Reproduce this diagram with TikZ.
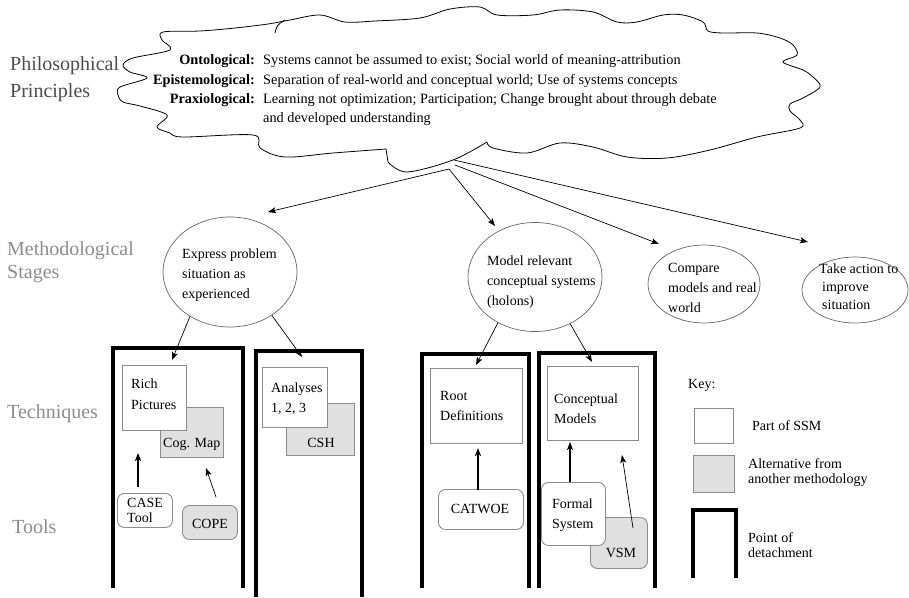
\documentclass[tikz,border=0pt]{standalone}
\usepackage{fontspec}
\setmainfont{Liberation Serif}
\usetikzlibrary{arrows.meta,shapes.geometric}
\definecolor{boxedge}{gray}{0.55}
\definecolor{altfill}{gray}{0.88}
\definecolor{philo}{gray}{0.3}
\definecolor{levels}{gray}{0.55}
\definecolor{stageedge}{gray}{0.4}

\begin{document}
\begin{tikzpicture}[x=1pt,y=-1pt,
  % multi-line text nodes are placed by the baseline of their last line
  txt/.style={anchor=base west, inner sep=0, align=left, font=\fontsize{14}{20}\selectfont},
  ctxt/.style={txt, anchor=base},
  cloudtxt/.style={anchor=base west, inner sep=0, font=\fontsize{14.3}{19}\selectfont},
  cloudkey/.style={anchor=base east, inner sep=0, font=\fontsize{14.3}{19}\selectfont\bfseries},
  level/.style={anchor=base west, inner sep=0, align=left, font=\fontsize{20}{23}\selectfont, text=levels},
  stage/.style={draw=stageedge, ellipse, line width=0.7pt, inner sep=0},
  part/.style={draw=boxedge, fill=white, line width=0.9pt, anchor=north west, inner sep=0},
  alt/.style={part, fill=altfill},
  toolbox/.style={part, rounded corners=7pt},
  alttool/.style={alt, rounded corners=7pt},
  detach/.style={line width=3.2pt, line cap=butt, line join=miter},
  arr/.style={-{Stealth[length=8pt,width=6pt,inset=2pt]}, line width=0.7pt},
  thickarr/.style={arr, line width=1.6pt},
]
\useasboundingbox (0,0) rectangle (909,597);

% ---- level labels ----
\node[level, text=philo] (lvlphilo) at (10,70) {Philosophical};
\node[level, text=philo] (lvlprin) at (10,97) {Principles};
\node[level] (lvlmeth) at (7,255) {Methodological};
\node[level] (lvlstag) at (7,278) {Stages};
\node[level] (lvltech) at (7,418) {Techniques};
\node[level] (lvltool) at (12,533) {Tools};

% ---- cloud of principles ----
\draw[line width=0.8pt, line join=round]
  plot[smooth, tension=0.55] coordinates {
    (487,142) (493,148) (527,153) (560,143) (593,147) (627,157) (667,158)
    (710,150) (757,137) (800,128) (800,120) (790,111) (790,104) (803,98)
    (820,87) (813,77) (803,70) (783,62) (797,55) (793,45) (780,38) (757,33)
    (723,33) (708,31) (703,22) (683,15) (663,15) (637,22) (617,22) (593,12)
    (560,10) (533,15) (497,15) (480,7) (450,9) (420,18) (375,21) (345,22)
    (320,15) (290,20) (268,24) (235,28) (200,31) (163,32) (162,40) (170,50)
    (133,58) (123,65) (130,72) (147,78) (120,87) (118,95) (123,102) (140,106)
    (167,115) (157,127) (170,133) (183,137) (253,135) (260,148) (285,157)
    (333,153) (386,149)}
  -- plot[smooth, tension=0.55] coordinates {(388,162) (407,172) (453,160) (487,142)};
\draw[line width=0.8pt] (275,33) .. controls (277,25) .. (285,20);

\node[cloudkey] (ontk) at (255,64) {Ontological:};
\node[cloudtxt] (ontv) at (263,64) {Systems cannot be assumed to exist; Social world of meaning-attribution};
\node[cloudkey] (epik) at (255,84) {Epistemological:};
\node[cloudtxt] (epiv) at (263,84) {Separation of real-world and conceptual world; Use of systems concepts};
\node[cloudkey] (prak) at (255,103) {Praxiological:};
\node[cloudtxt] (prav) at (263,103) {Learning not optimization; Participation; Change brought about through debate};
\node[cloudtxt] (prav2) at (263,122) {and developed understanding};

% ---- methodological stages ----
\node[stage, minimum width=134, minimum height=110] (express) at (230,272) {};
\node[stage, minimum width=134, minimum height=109] (model) at (535,277) {};
\node[stage, minimum width=112, minimum height=78] (compare) at (704,284) {};
\node[stage, minimum width=106, minimum height=66] (takeact) at (855,290) {};
\node[txt] (expresst) at (182,298) {Express problem\\situation as\\experienced};
\node[txt] (modelt) at (487,305) {Model relevant\\conceptual systems\\(holons)};
\node[txt] (comparet) at (668,312) {Compare\\models and real\\world};
\node[txt, font=\fontsize{14}{18}\selectfont] (takeactt) at (819,309) {Take action to\\\hspace*{3pt}improve\\\hspace*{3pt}situation};

\coordinate (src1) at (449,169);
\coordinate (src2) at (455,165);
\coordinate (src3) at (454,160);
\coordinate (expressin) at (268,212);
\coordinate (modelin) at (495,226);
\coordinate (comparein) at (659,244);
\coordinate (takeactin) at (808,242);
\draw[arr] (src1) -- (expressin);
\draw[arr] (src1) -- (modelin);
\draw[arr] (src2) -- (comparein);
\draw[arr] (src3) -- (takeactin);

% ---- points of detachment ----
\draw[detach] (113,588) |- (243,348) -- (243,588);
\draw[detach] (256,597) |- (362,351) -- (362,597);
\draw[detach] (422,588) |- (529,354) -- (529,588);
\draw[detach] (539,588) |- (655,353) -- (655,588);

% ---- techniques ----
\node[alt, minimum width=63, minimum height=50] (cog) at (160,407) {};
\node[part, minimum width=64, minimum height=65] (rich) at (122,365) {};
\node[alt, minimum width=68, minimum height=52] (csh) at (286,403) {};
\node[part, minimum width=65, minimum height=60] (analyses) at (262,367) {};
\node[part, minimum width=92, minimum height=75] (root) at (430,368) {};
\node[part, minimum width=91, minimum height=74] (concept) at (547,366) {};

\node[txt, font=\fontsize{14}{21}\selectfont] (richt) at (131,409) {Rich\\Pictures};
\node[txt] (cogt) at (163,447) {Cog. Map};
\node[txt] (analysest) at (271,412) {Analyses\\1, 2, 3};
\node[ctxt] (csht) at (321,447) {CSH};
\node[txt] (roott) at (440,420) {Root\\Definitions};
\node[txt] (conceptt) at (554,423) {Conceptual\\Models};

% ---- tools ----
\node[toolbox, minimum width=55, minimum height=34] (casetool) at (117,493) {};
\node[alttool, minimum width=55, minimum height=34] (cope) at (182,505) {};
\node[toolbox, minimum width=85, minimum height=40] (catwoe) at (438,489) {};
\node[alttool, minimum width=57, minimum height=51] (vsm) at (590,517) {};
\node[toolbox, minimum width=64, minimum height=63] (formal) at (541,482) {};

\node[txt, font=\fontsize{14}{15}\selectfont] (casetoolt) at (127,522) {CASE\\Tool};
\node[ctxt] (copet) at (210,528) {COPE};
\node[ctxt] (catwoet) at (480,513) {CATWOE};
\node[txt] (formalt) at (552,528) {Formal\\System};
\node[ctxt] (vsmt) at (621,557) {VSM};

% ---- links from stages to techniques, tools to techniques ----
\coordinate (richin) at (172,360);
\coordinate (analysesin) at (302,357);
\coordinate (rootin) at (476,365);
\coordinate (conceptin) at (592,362);
\draw[arr] (express.228) -- (richin);
\draw[arr] (express.314) -- (analysesin);
\draw[arr] (model.231) -- (rootin);
\draw[arr] (model.307) -- (conceptin);

\coordinate (caseout) at (138,487);
\coordinate (richup) at (138,453);
\coordinate (copeout) at (216,497);
\coordinate (cogup) at (206,468);
\coordinate (catwoeout) at (478,490);
\coordinate (rootup) at (478,448);
\coordinate (formalout) at (570,482);
\coordinate (conceptup) at (570,442);
\coordinate (vsmout) at (633,528);
\coordinate (conceptup2) at (622,455);
\draw[thickarr] (caseout) -- (richup);
\draw[arr] (copeout) -- (cogup);
\draw[thickarr] (catwoeout) -- (rootup);
\draw[thickarr] (formalout) -- (conceptup);
\draw[arr] (vsmout) -- (conceptup2);

% ---- key ----
\node[txt] (keyt) at (688,388) {Key:};
\node[part, minimum width=39, minimum height=35] (keypart) at (694,408) {};
\node[alt, minimum width=41, minimum height=37] (keyalt) at (693,455) {};
\draw[detach] (693,578) |- (736,510) -- (736,578);
\node[txt] (keypartt) at (752,430) {Part of SSM};
\node[txt, font=\fontsize{14}{15}\selectfont] (keyaltt) at (748,483) {Alternative from\\another methodology};
\node[txt, font=\fontsize{14}{15}\selectfont] (keydett) at (748,557) {Point of\\detachment};

\end{tikzpicture}
\end{document}
